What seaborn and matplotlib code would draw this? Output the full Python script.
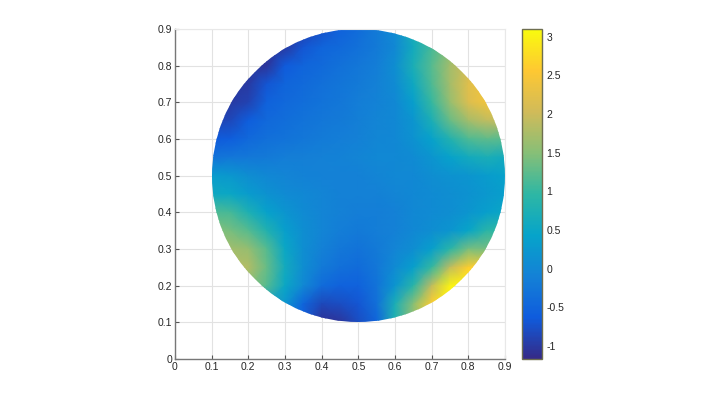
import matplotlib
matplotlib.use("Agg")
import matplotlib.pyplot as plt
from matplotlib.patches import Circle
import numpy as np
import seaborn as sns

# sampled field, rows from y=0.9 down to y=0.1, columns x=0.1 to 0.9
x_vals = [0.10, 0.15, 0.20, 0.25, 0.30, 0.35, 0.40, 0.45, 0.50, 0.55, 0.60, 0.65, 0.70, 0.75, 0.80, 0.85, 0.90]
y_vals = [0.90, 0.85, 0.80, 0.75, 0.70, 0.65, 0.60, 0.55, 0.50, 0.45, 0.40, 0.35, 0.30, 0.25, 0.20, 0.15, 0.10]
field = [
    [-1.0, -1.0, -1.0, -1.0, -1.0, -0.95, -0.75, -0.55, -0.4, -0.2, 0.05, 0.7, 1.1, 1.4, 1.5, 1.5, 1.5],
    [-1.0, -1.0, -1.0, -1.0, -1.0, -0.7, -0.5, -0.42, -0.32, -0.2, 0.0, 0.6, 1.1, 1.5, 1.7, 1.7, 1.7],
    [-1.0, -1.0, -1.0, -1.05, -0.65, -0.5, -0.42, -0.32, -0.25, -0.15, 0.1, 0.7, 1.2, 1.7, 2.0, 2.0, 2.0],
    [-1.0, -1.0, -1.0, -0.7, -0.5, -0.42, -0.35, -0.28, -0.2, -0.1, 0.05, 0.55, 1.15, 1.7, 2.2, 2.4, 2.4],
    [-1.0, -1.0, -0.9, -0.55, -0.45, -0.38, -0.3, -0.25, -0.15, -0.08, 0.0, 0.35, 1.0, 1.6, 2.15, 2.4, 2.4],
    [-0.9, -0.85, -0.6, -0.45, -0.38, -0.3, -0.25, -0.2, -0.12, -0.05, 0.0, 0.2, 0.7, 1.3, 1.7, 1.9, 1.9],
    [-0.65, -0.6, -0.45, -0.35, -0.3, -0.25, -0.18, -0.15, -0.1, -0.03, 0.0, 0.15, 0.4, 0.8, 1.15, 1.25, 1.2],
    [-0.3, -0.25, -0.22, -0.2, -0.15, -0.12, -0.1, -0.08, -0.05, 0.0, 0.0, 0.05, 0.2, 0.4, 0.6, 0.7, 0.6],
    [0.3, 0.25, 0.1, 0.0, -0.05, -0.08, -0.1, -0.1, -0.1, -0.05, 0.0, 0.0, 0.1, 0.15, 0.2, 0.3, 0.4],
    [0.55, 0.5, 0.3, 0.15, 0.05, 0.0, -0.05, -0.1, -0.1, -0.1, -0.05, 0.0, 0.05, 0.1, 0.15, 0.25, 0.35],
    [1.15, 1.1, 0.75, 0.4, 0.2, 0.05, -0.05, -0.1, -0.15, -0.15, -0.1, 0.0, 0.05, 0.1, 0.2, 0.35, 0.5],
    [1.5, 1.4, 1.2, 0.8, 0.35, 0.1, -0.05, -0.15, -0.2, -0.15, -0.1, 0.0, 0.1, 0.2, 0.45, 0.9, 1.0],
    [1.7, 1.7, 1.6, 1.2, 0.5, 0.1, -0.1, -0.25, -0.3, -0.2, -0.05, 0.1, 0.35, 0.9, 1.4, 1.4, 1.4],
    [1.8, 1.8, 1.8, 1.3, 0.6, 0.1, -0.2, -0.35, -0.4, -0.25, 0.05, 0.35, 1.0, 1.9, 2.6, 2.6, 2.6],
    [1.5, 1.5, 1.5, 1.2, 0.5, 0.0, -0.4, -0.55, -0.55, -0.3, 0.2, 0.9, 1.9, 3.0, 3.0, 3.0, 3.0],
    [0.3, 0.3, 0.3, 0.3, 0.2, -0.5, -0.85, -0.8, -0.7, -0.35, 0.7, 1.5, 2.6, 3.0, 3.0, 3.0, 3.0],
    [-0.2, -0.2, -0.2, -0.2, -0.2, -0.6, -1.1, -1.05, -0.8, -0.5, 0.8, 1.6, 2.6, 3.0, 3.0, 3.0, 3.0],
]
tick_vals = [0, 0.1, 0.2, 0.3, 0.4, 0.5, 0.6, 0.7, 0.8, 0.9]
tick_labels = ["0", "0.1", "0.2", "0.3", "0.4", "0.5", "0.6", "0.7", "0.8", "0.9"]
cbar_ticks = [-1, -0.5, 0, 0.5, 1, 1.5, 2, 2.5, 3]
cbar_labels = ["-1", "-0.5", "0", "0.5", "1", "1.5", "2", "2.5", "3"]
parula = ["#352a87", "#0f5cdd", "#1481d6", "#06a4ca", "#2eb7a4", "#87bf77", "#d1bb59", "#fec832", "#f9fb0e"]

sns.set_theme(style="whitegrid")
plt.rcParams['font.family'] = ['Liberation Sans', 'DejaVu Sans']
cmap = sns.blend_palette(parula, as_cmap=True)

W, H = 714, 405
fig = plt.figure(figsize=(W / 100, H / 100), dpi=100)
ax = fig.add_axes([175 / W, 1 - 359 / H, 330 / W, 330 / H])
cax = fig.add_axes([522 / W, 1 - 359 / H, 20 / W, 330 / H])

mesh = ax.pcolormesh(x_vals, y_vals, np.array(field), cmap=cmap, vmin=-1.17, vmax=3.1,
                     shading='gouraud', zorder=2)
mesh.set_clip_path(Circle((0.5, 0.5), 0.4, transform=ax.transData))

ax.set_xlim(0, 0.9)
ax.set_ylim(0, 0.9)
ax.set_xticks(tick_vals, tick_labels)
ax.set_yticks(tick_vals, tick_labels)
ax.grid(True, color='#e2e2e2', linewidth=0.8)
ax.set_axisbelow(True)
ax.tick_params(axis='both', direction='in', length=3, width=0.8, color='#555555',
               labelsize=7.5, labelcolor='#262626', pad=2, left=True, bottom=True)
for side in ['top', 'right']:
    ax.spines[side].set_color('#e8e8e8')
    ax.spines[side].set_linewidth(0.8)
for side in ['left', 'bottom']:
    ax.spines[side].set_color('#777777')
    ax.spines[side].set_linewidth(1.0)

cb = fig.colorbar(mesh, cax=cax)
cb.set_ticks(cbar_ticks, labels=cbar_labels)
cb.ax.tick_params(direction='in', length=2, width=0.8, color='#333333', labelsize=7.5,
                  labelcolor='#262626', pad=3, right=True)
cb.outline.set_edgecolor('#6e6e50')
cb.outline.set_linewidth(1.0)
cax.grid(False)

plt.savefig("out.png", dpi=100)
